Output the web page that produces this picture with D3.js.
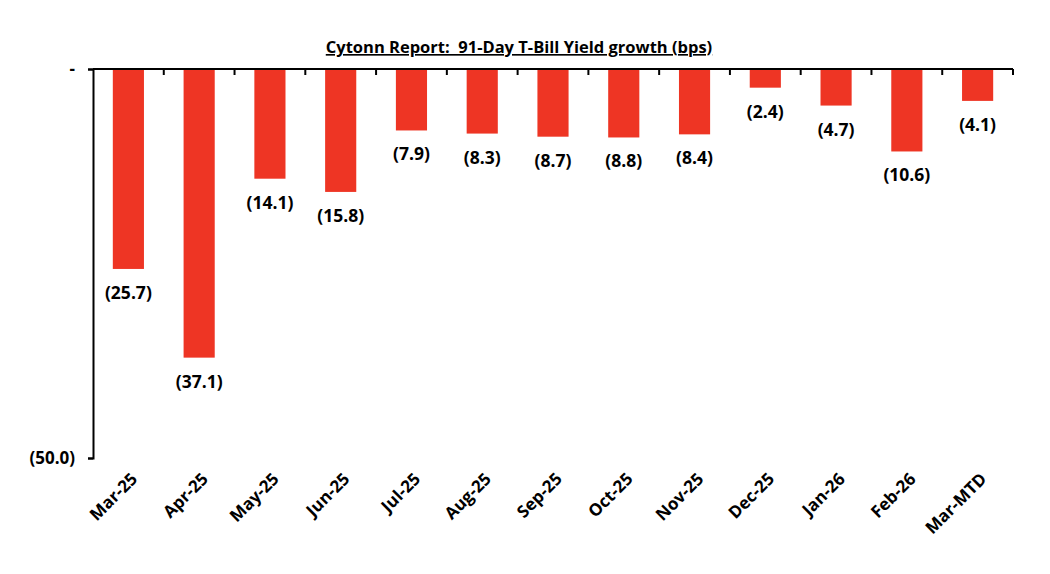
<!DOCTYPE html>
<html>
<head>
  <meta charset="utf-8">
  <script src="https://cdn.jsdelivr.net/npm/d3@7/dist/d3.min.js"></script>
  <style>
    body {margin: 0; background: #fff;}
    text {font-family: "Open Sans", "Liberation Sans", sans-serif; font-weight: bold; fill: #000;}
  </style>
</head>
<body>
<script>
  // chart data
  var months = ["Mar-25", "Apr-25", "May-25", "Jun-25", "Jul-25", "Aug-25", "Sep-25",
                "Oct-25", "Nov-25", "Dec-25", "Jan-26", "Feb-26", "Mar-MTD"];
  var growth = [-25.7, -37.1, -14.1, -15.8, -7.9, -8.3, -8.7, -8.8, -8.4, -2.4, -4.7, -10.6, -4.1];
  var yTicks = [0, -50];
  var yTickLabels = ["-", "(50.0)"];

  var width = 1050, height = 574;
  var margin = {top: 69, left: 93, right: 37, bottom: 116};

  var svg = d3.select("body").append("svg")
      .attr("width", width)
      .attr("height", height);

  var x = d3.scaleBand().domain(months).range([margin.left, width - margin.right]).padding(0);
  var y = d3.scaleLinear().domain([0, -50]).range([margin.top, height - margin.bottom]);

  var barW = x.bandwidth() * 0.44;
  var fmt = function (v) { return "(" + Math.abs(v).toFixed(1) + ")"; };

  // bars
  svg.selectAll("rect.bar").data(months).enter().append("rect")
      .attr("class", "bar")
      .attr("x", function (d) { return x(d) + (x.bandwidth() - barW) / 2; })
      .attr("y", y(0))
      .attr("width", barW)
      .attr("height", function (d, i) { return y(growth[i]) - y(0); })
      .attr("fill", "#EE3524");

  // value labels
  svg.selectAll("text.val").data(months).enter().append("text")
      .attr("class", "val")
      .attr("x", function (d) { return x(d) + x.bandwidth() / 2; })
      .attr("y", function (d, i) { return y(growth[i]) + 30; })
      .attr("text-anchor", "middle")
      .style("font-size", "17.5px")
      .text(function (d, i) { return fmt(growth[i]); });

  // y axis
  var yAxis = d3.axisLeft(y).tickValues(yTicks).tickSize(5).tickPadding(13)
      .tickFormat(function (d, i) { return yTickLabels[i]; });
  var gy = svg.append("g")
      .attr("transform", "translate(" + margin.left + ",0)")
      .call(yAxis);
  gy.select(".domain").attr("stroke", "#000").attr("stroke-width", 2);
  gy.selectAll(".tick line").attr("stroke", "#000").attr("stroke-width", 2);
  gy.selectAll(".tick text").style("font-size", "17px").style("font-family", "'Open Sans', sans-serif").style("font-weight", "bold");

  // x axis along zero line with ticks between categories
  var gx = svg.append("g");
  gx.append("line")
      .attr("x1", margin.left).attr("x2", width - margin.right)
      .attr("y1", y(0)).attr("y2", y(0))
      .attr("stroke", "#000").attr("stroke-width", 2);
  var bounds = months.slice(1).map(function (d) { return x(d); }).concat([x.range()[1]]);
  gx.selectAll("line.tk").data(bounds).enter().append("line")
      .attr("class", "tk")
      .attr("x1", function (d) { return d; }).attr("x2", function (d) { return d; })
      .attr("y1", y(0)).attr("y2", y(0) + 6)
      .attr("stroke", "#000").attr("stroke-width", 2);

  // category labels at bottom, rotated
  svg.selectAll("text.cat").data(months).enter().append("text")
      .attr("class", "cat")
      .attr("text-anchor", "end")
      .attr("transform", function (d) {
        return "translate(" + (x(d) + x.bandwidth() / 2 + 10) + "," + (y(-50) + 22) + ") rotate(-45)";
      })
      .style("font-size", "17px")
      .text(function (d) { return d; });

  // title
  svg.append("text")
      .attr("x", 519)
      .attr("y", 53)
      .attr("text-anchor", "middle")
      .attr("xml:space", "preserve")
      .style("white-space", "pre")
      .style("font-size", "16.5px")
      .style("text-decoration", "underline")
      .text("Cytonn Report:  91-Day T-Bill Yield growth (bps)");
</script>
</body>
</html>
